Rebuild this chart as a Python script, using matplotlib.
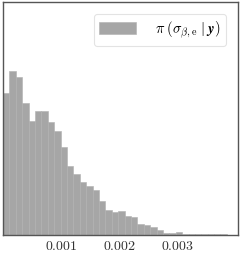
import numpy as np
import matplotlib
matplotlib.use('Agg')
import matplotlib.pyplot as plt

plt.rcParams['mathtext.fontset'] = 'cm'
plt.rcParams['font.family'] = 'serif'
plt.rcParams['font.serif'] = ['DejaVu Serif']

# histogram bin heights (arbitrary units)
BIN_START = 0.0
BIN_WIDTH = 0.0001097
HEIGHTS = [142, 164, 158, 132, 114, 124, 124, 113, 104, 88, 69, 61, 53, 49,
           45, 34, 25, 23, 24, 19, 18, 11, 10, 8, 5, 2.5, 2.5, 3.5, 1.5, 1.5,
           1, 0.7, 0.7, 0.6, 0.6]
XTICKS = [0.001, 0.002, 0.003]
XTICK_LABELS = ['$0.001$', '$0.002$', '$0.003$']
LABEL = r'$\pi\;(\sigma_{\beta,\mathrm{e}}\;|\;\boldsymbol{y})$'


def main():
    edges = BIN_START + BIN_WIDTH * np.arange(len(HEIGHTS) + 1)
    centers = (edges[:-1] + edges[1:]) / 2

    fig = plt.figure(figsize=(2.41, 2.57), dpi=100)
    ax = fig.add_axes([3 / 241, 22 / 257, 235 / 241, 233 / 257])

    ax.hist(centers, bins=edges, weights=HEIGHTS, color='#a6a6a6',
            edgecolor='#b0b0b0', linewidth=0.4, label=LABEL)

    ax.set_xlim(0, 0.00403)
    ax.set_ylim(0, 233)
    ax.set_yticks([])
    ax.set_xticks(XTICKS)
    ax.set_xticklabels(XTICK_LABELS, fontsize=10)
    ax.tick_params(axis='x', length=0, pad=3, colors='#333333')
    for s in ax.spines.values():
        s.set_color('#555555')
        s.set_linewidth(1.0)

    leg = ax.legend(loc='upper right', fontsize=10.5, frameon=True,
                    fancybox=True, handlelength=2.5, handleheight=0.9,
                    borderpad=0.4, handletextpad=1.3, borderaxespad=0.8)
    leg.get_frame().set_edgecolor('#dddddd')
    leg.get_frame().set_linewidth(0.8)

    fig.savefig('out.png', dpi=100)


if __name__ == '__main__':
    main()
